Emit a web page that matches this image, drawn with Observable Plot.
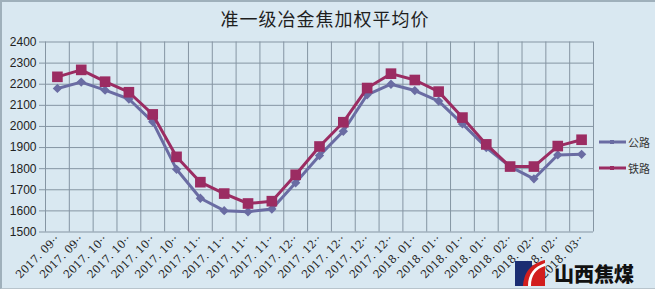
<!DOCTYPE html>
<html>
<head>
<meta charset="utf-8">
<script src="https://cdn.jsdelivr.net/npm/d3@7"></script>
<script src="https://cdn.jsdelivr.net/npm/@observablehq/plot@0.6"></script>
<style>
  html, body { margin: 0; padding: 0; background: #ffffff; }
  #wrap { position: relative; width: 655px; height: 293px; overflow: hidden; background: #ffffff; }
  #panel { position: absolute; left: 0; top: 0; width: 653px; height: 286px; background: #d9e8f1;
           border-top: 2px solid #9fb0bb; border-left: 2px solid #9fb0bb; border-bottom: 1px solid #b8c4cc; }
  #chart { position: absolute; left: 0; top: 0; }
  #title { position: absolute; left: 0; width: 650px; top: 5px; text-align: center;
           font-family: "Noto Sans CJK SC", sans-serif; font-size: 18px; color: #1e1e1e; letter-spacing: 1px; }
  .leg { position: absolute; left: 599px; font-family: "Noto Sans CJK SC", sans-serif; font-size: 11px; color: #333; display: flex; align-items: center; }
  .leg svg { margin-right: 2px; }
  #logo { position: absolute; left: 515px; top: 259px; display: flex; align-items: center; }
  #logotext { font-family: "Noto Sans CJK SC", sans-serif; font-weight: 900; font-size: 20px; color: #111; margin-left: 8px; letter-spacing: 0px; }
</style>
</head>
<body>
<div id="wrap">
  <div id="panel"></div>
  <div id="chart"></div>
  <div id="title">准一级冶金焦加权平均价</div>
  <div class="leg" id="leg1" style="top:134px"></div>
  <div class="leg" id="leg2" style="top:160px"></div>
  <div id="logo">
    <svg width="31" height="27" viewBox="0 0 31 27">
      <rect x="0" y="1" width="17" height="25" fill="#1b2d72"></rect>
      <path d="M30,0 C18,3 9,10 8,26 L30,26 Z" fill="#d21e1e"></path>
      <path d="M13,26 C13,14 19,7 30,3 L30,6 C21,9 16,15 16,26 Z" fill="#ffffff"></path>
    </svg>
    <span id="logotext">山西焦煤</span>
  </div>
</div>
<script>
const dates = [
  "2017. 09··","2017. 09··",
  "2017. 10··","2017. 10··","2017. 10··","2017. 10··",
  "2017. 11··","2017. 11··","2017. 11··","2017. 11··",
  "2017. 12··","2017. 12··","2017. 12··","2017. 12··","2017. 12··",
  "2018. 01··","2018. 01··","2018. 01··","2018. 01··",
  "2018. 02··","2018. 02··","2018. 02··",
  "2018. 03··"
];
const road = [2180, 2210, 2172, 2130, 2022, 1797, 1660, 1601, 1596, 1609, 1733, 1862, 1977, 2150, 2200, 2170, 2120, 2012, 1900, 1810, 1752, 1865, 1868];
const rail = [2235, 2268, 2212, 2162, 2057, 1856, 1736, 1682, 1635, 1646, 1771, 1905, 2020, 2182, 2250, 2220, 2165, 2042, 1915, 1810, 1810, 1907, 1937];
const seriesNames = ["公路", "铁路"];
const yTicks = [1500, 1600, 1700, 1800, 1900, 2000, 2100, 2200, 2300, 2400];

const roadColor = "#6a6ca3";
const railColor = "#9b2c62";

const roadData = road.map((v, i) => ({i: i + 0.5, v}));
const railData = rail.map((v, i) => ({i: i + 0.5, v}));
const xEdges = d3.range(dates.length + 1);
const xCenters = d3.range(dates.length).map(i => i + 0.5);

const chart = Plot.plot({
  width: 655,
  height: 293,
  marginLeft: 45,
  marginRight: 62,
  marginTop: 41.5,
  marginBottom: 61.5,
  style: {background: "transparent", fontFamily: "Liberation Sans, sans-serif"},
  x: {domain: [0, dates.length], axis: null, label: null},
  y: {domain: [1500, 2400], axis: null, label: null},
  marks: [
    Plot.ruleY(yTicks, {stroke: "#8595a3", strokeWidth: 1}),
    Plot.ruleX(xEdges, {stroke: "#8595a3", strokeWidth: 1}),
    Plot.axisY(yTicks, {tickSize: 6, tickPadding: 3, fontSize: 12, stroke: "#8595a3", color: "#222", label: null, tickFormat: d => String(d)}),
    Plot.axisX(xCenters, {tickSize: 0, tickPadding: 5, tickRotate: -45, fontSize: 11, color: "#222", label: null,
      tickFormat: d => dates[Math.floor(d)], fontFamily: "DejaVu Serif, serif"}),
    Plot.line(roadData, {x: "i", y: "v", stroke: roadColor, strokeWidth: 3}),
    Plot.dot(roadData, {x: "i", y: "v", symbol: "diamond2", r: 4.2, fill: roadColor, stroke: "none"}),
    Plot.line(railData, {x: "i", y: "v", stroke: railColor, strokeWidth: 3}),
    Plot.dot(railData, {x: "i", y: "v", symbol: "square", r: 6, fill: railColor, stroke: "none"})
  ]
});
document.getElementById("chart").appendChild(chart);

function legendItem(el, name, color) {
  el.innerHTML = `<svg width="27" height="14"><line x1="0" y1="7" x2="27" y2="7" stroke="${color}" stroke-width="3"></line><rect x="11" y="5" width="4" height="4" fill="${color}"></rect></svg><span>${name}</span>`;
}
legendItem(document.getElementById("leg1"), seriesNames[0], roadColor);
legendItem(document.getElementById("leg2"), seriesNames[1], railColor);
</script>
</body>
</html>
